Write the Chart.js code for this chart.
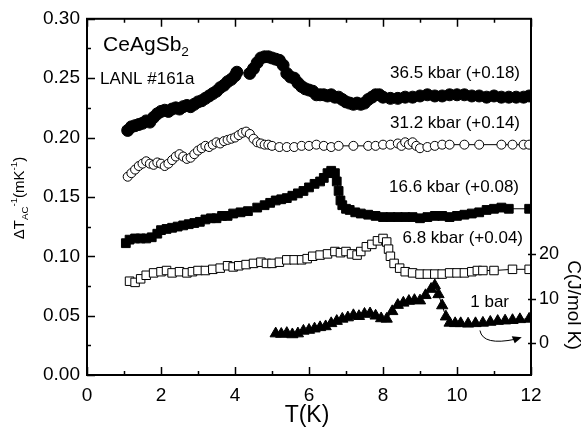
<!DOCTYPE html>
<html>
<head>
<meta charset="utf-8">
<script src="https://cdn.jsdelivr.net/npm/chart.js@4.4.1/dist/chart.umd.min.js"></script>
<style>
  html, body { margin: 0; padding: 0; background: #fff; }
  #wrap { width: 588px; height: 436px; }
</style>
</head>
<body>
<div id="wrap"><canvas id="Chart" width="588" height="436"></canvas></div>
<script>
// 36.5 kbar (+0.18), filled circles
const t365 = [1.1,1.2,1.3,1.4,1.5,1.6,1.7,1.8,1.9,2.0,2.1,2.2,2.3,2.4,2.5,2.6,2.7,2.8,2.9,3.0,3.1,3.2,3.3,3.4,3.5,3.6,3.7,3.8,3.9,4.0,4.05,4.4,4.5,4.6,4.7,4.8,4.9,5.0,5.1,5.2,5.3,5.4,5.5,5.6,5.7,5.8,5.9,6.0,6.1,6.2,6.3,6.4,6.5,6.6,6.7,6.8,6.9,7.0,7.1,7.2,7.3,7.4,7.5,7.6,7.7,7.8,7.9,8.0,8.2,8.4,8.6,8.8,9.0,9.2,9.4,9.6,9.8,10.0,10.2,10.4,10.6,10.8,11.0,11.2,11.4,11.6,11.8,11.95];
const v365 = [0.206,0.209,0.210,0.211,0.212,0.214,0.213,0.217,0.220,0.222,0.223,0.222,0.224,0.225,0.224,0.226,0.227,0.226,0.228,0.230,0.231,0.233,0.235,0.237,0.239,0.242,0.244,0.247,0.249,0.252,0.255,0.254,0.258,0.263,0.267,0.268,0.268,0.267,0.266,0.265,0.261,0.254,0.251,0.250,0.246,0.243,0.241,0.240,0.239,0.236,0.236,0.236,0.235,0.236,0.234,0.234,0.232,0.230,0.229,0.228,0.229,0.228,0.229,0.232,0.234,0.236,0.236,0.234,0.233,0.233,0.234,0.234,0.235,0.236,0.235,0.235,0.236,0.236,0.236,0.235,0.235,0.234,0.235,0.234,0.234,0.234,0.234,0.235];

// 31.2 kbar (+0.14), open circles
const t312 = [1.1,1.2,1.3,1.4,1.5,1.6,1.7,1.8,1.9,2.0,2.1,2.2,2.3,2.4,2.5,2.6,2.7,2.8,2.9,3.0,3.1,3.2,3.3,3.4,3.5,3.6,3.7,3.8,3.9,4.0,4.1,4.2,4.3,4.4,4.5,4.6,4.7,4.8,4.9,5.0,5.2,5.4,5.6,5.8,6.0,6.2,6.4,6.6,6.8,7.2,7.6,7.8,8.0,8.2,8.4,8.5,8.6,8.7,8.8,8.9,9.0,9.2,9.4,9.6,9.8,10.2,10.6,11.2,11.5,11.8,11.95];
const v312 = [0.167,0.170,0.173,0.176,0.178,0.180,0.178,0.177,0.179,0.178,0.176,0.178,0.181,0.184,0.186,0.184,0.182,0.183,0.186,0.189,0.191,0.193,0.192,0.194,0.196,0.195,0.197,0.198,0.199,0.200,0.202,0.204,0.205,0.203,0.199,0.196,0.195,0.194,0.194,0.193,0.192,0.192,0.192,0.193,0.193,0.194,0.193,0.192,0.193,0.193,0.193,0.193,0.194,0.194,0.195,0.193,0.196,0.194,0.196,0.193,0.191,0.192,0.193,0.194,0.194,0.194,0.194,0.194,0.194,0.194,0.194];

// 16.6 kbar (+0.08), filled squares
const t166 = [1.05,1.15,1.3,1.45,1.6,1.75,1.9,2.0,2.15,2.3,2.45,2.6,2.75,2.9,3.05,3.2,3.35,3.5,3.65,3.8,3.95,4.15,4.35,4.6,4.8,4.95,5.1,5.25,5.4,5.55,5.7,5.85,6.0,6.15,6.3,6.4,6.5,6.6,6.7,6.75,6.8,6.85,6.9,7.0,7.1,7.25,7.4,7.6,7.8,8.0,8.2,8.4,8.6,8.8,9.0,9.2,9.4,9.6,9.8,10.0,10.2,10.4,10.6,10.8,11.0,11.2,11.4,11.95];
const v166 = [0.111,0.114,0.115,0.115,0.115,0.116,0.119,0.122,0.123,0.124,0.125,0.126,0.127,0.128,0.129,0.131,0.132,0.132,0.134,0.134,0.136,0.137,0.138,0.141,0.143,0.145,0.147,0.148,0.149,0.151,0.153,0.155,0.158,0.161,0.163,0.166,0.170,0.172,0.170,0.163,0.155,0.147,0.143,0.140,0.139,0.137,0.136,0.135,0.134,0.133,0.133,0.133,0.133,0.133,0.132,0.133,0.134,0.134,0.133,0.134,0.135,0.136,0.137,0.139,0.140,0.141,0.140,0.140];

// 6.8 kbar (+0.04), open squares
const t68 = [1.15,1.3,1.45,1.6,1.8,2.0,2.15,2.3,2.5,2.7,2.85,3.0,3.2,3.4,3.6,3.8,3.95,4.1,4.3,4.5,4.7,4.85,5.0,5.2,5.4,5.6,5.8,5.95,6.1,6.3,6.5,6.7,6.85,7.0,7.15,7.3,7.4,7.55,7.7,7.85,8.0,8.1,8.15,8.2,8.3,8.45,8.6,8.8,9.0,9.2,9.4,9.6,9.8,10.0,10.2,10.4,10.55,10.7,11.0,11.5,11.95];
const v68 = [0.079,0.078,0.081,0.084,0.086,0.087,0.088,0.086,0.087,0.086,0.087,0.088,0.088,0.089,0.090,0.092,0.091,0.092,0.093,0.094,0.095,0.094,0.094,0.095,0.097,0.097,0.097,0.098,0.100,0.101,0.102,0.104,0.103,0.104,0.102,0.101,0.104,0.108,0.110,0.113,0.115,0.112,0.106,0.100,0.094,0.090,0.087,0.086,0.085,0.085,0.085,0.085,0.086,0.086,0.086,0.087,0.088,0.088,0.088,0.089,0.089];

// 1 bar, specific heat C (J/mol K), filled triangles, right axis
const t1 = [5.1,5.25,5.4,5.55,5.7,5.85,6.0,6.15,6.3,6.45,6.6,6.75,6.9,7.05,7.2,7.35,7.5,7.65,7.8,7.95,8.1,8.25,8.4,8.55,8.7,8.85,9.0,9.15,9.3,9.4,9.5,9.6,9.7,9.8,9.95,10.1,10.3,10.5,10.7,10.9,11.1,11.3,11.5,11.7,11.95];
const c1 = [2.2,2.1,2.3,2.0,2.2,2.8,3.0,3.3,3.6,3.8,4.5,5.0,5.5,5.8,6.3,6.1,6.6,6.7,6.2,5.6,5.5,7.2,8.6,9.1,9.5,9.7,9.6,10.8,12.2,13.0,11.0,8.5,6.0,4.6,4.5,4.5,4.4,4.5,4.6,4.8,5.0,5.1,5.2,5.4,5.5];

const yTicks = [0, 0.05, 0.1, 0.15, 0.2, 0.25, 0.3];
const cTicks = [0, 10, 20];

const FONT = '"Liberation Sans", Arial, sans-serif';

function pts(xs, ys) {
  return xs.map((x, i) => ({ x: x, y: ys[i] }));
}

function series(label, xs, ys, style, fill, radius, axis) {
  return {
    label: label,
    data: pts(xs, ys),
    yAxisID: axis || 'y',
    borderColor: '#000',
    borderWidth: 1,
    pointStyle: style,
    pointRadius: radius,
    pointBackgroundColor: fill,
    pointBorderColor: '#000',
    pointBorderWidth: 1,
    showLine: true,
    tension: 0
  };
}

// text with sub/superscripts, optionally rotated
function rich(ctx, x, y, parts, size, angle) {
  ctx.save();
  ctx.translate(x, y);
  ctx.rotate(angle);
  let w = 0;
  parts.forEach(p => {
    ctx.font = (p.s ? size * 0.65 : size) + 'px ' + FONT;
    w += ctx.measureText(p.t).width;
  });
  let cx = -w / 2;
  ctx.textBaseline = 'middle';
  ctx.textAlign = 'left';
  parts.forEach(p => {
    ctx.font = (p.s ? size * 0.65 : size) + 'px ' + FONT;
    const dy = p.s === 'sub' ? size * 0.35 : p.s === 'sup' ? -size * 0.35 : 0;
    ctx.fillText(p.t, cx, dy);
    cx += ctx.measureText(p.t).width;
  });
  ctx.restore();
}

const decor = {
  id: 'decor',
  afterDraw(chart) {
    const ctx = chart.ctx;
    const a = chart.chartArea;
    const xs = chart.scales.x, ys = chart.scales.y, cs = chart.scales.y2;
    ctx.save();
    ctx.strokeStyle = '#000';
    ctx.fillStyle = '#000';
    ctx.lineWidth = 2;
    ctx.strokeRect(a.left, a.top, a.right - a.left, a.bottom - a.top);

    // inward ticks
    ctx.lineWidth = 1.5;
    ctx.beginPath();
    for (let t = 0; t <= 12; t++) {
      const px = Math.round(xs.getPixelForValue(t)) + 0.5;
      const len = t % 2 === 0 ? 8 : 4;
      ctx.moveTo(px, a.bottom); ctx.lineTo(px, a.bottom - len);
      ctx.moveTo(px, a.top); ctx.lineTo(px, a.top + len);
    }
    for (let i = 0; i <= 12; i++) {
      const py = Math.round(ys.getPixelForValue(i * 0.025)) + 0.5;
      const len = i % 2 === 0 ? 8 : 4;
      ctx.moveTo(a.left, py); ctx.lineTo(a.left + len, py);
    }
    cTicks.forEach(v => {
      const py = Math.round(cs.getPixelForValue(v)) + 0.5;
      ctx.moveTo(a.right - 3, py); ctx.lineTo(a.right + 5, py);
    });
    ctx.stroke();

    // arrow from "1 bar" label to the right axis
    const x0 = xs.getPixelForValue(10.62), y0 = cs.getPixelForValue(2.9);
    const x1 = xs.getPixelForValue(11.75), y1 = cs.getPixelForValue(1.4);
    const qx = xs.getPixelForValue(10.7), qy = cs.getPixelForValue(-0.6);
    ctx.lineWidth = 1;
    ctx.beginPath();
    ctx.moveTo(x0, y0);
    ctx.quadraticCurveTo(qx, qy, x1 - 6, y1 + 2);
    ctx.stroke();
    ctx.beginPath();
    ctx.moveTo(x1, y1);
    ctx.lineTo(x1 - 10, y1 - 1);
    ctx.lineTo(x1 - 7, y1 + 6);
    ctx.closePath();
    ctx.fill();

    // labels
    ctx.textBaseline = 'middle';
    ctx.textAlign = 'right';
    ctx.font = '17px ' + FONT;
    ctx.fillText('36.5 kbar (+0.18)', 520, 73);
    ctx.fillText('31.2 kbar (+0.14)', 520, 123);
    ctx.fillText('16.6 kbar (+0.08)', 519, 187);
    ctx.fillText('6.8 kbar (+0.04)', 523, 238);
    ctx.fillText('1 bar', 509, 302);

    ctx.textAlign = 'left';
    rich(ctx, 146, 45, [{ t: 'CeAgSb' }, { t: '2', s: 'sub' }], 21, 0);
    ctx.font = '17px ' + FONT;
    ctx.textAlign = 'left';
    ctx.fillText('LANL #161a', 100, 79);

    // axis titles
    ctx.font = '23px ' + FONT;
    ctx.textAlign = 'center';
    ctx.fillText('T(K)', 307, 416);
    rich(ctx, 20, 198, [
      { t: '\u0394T' }, { t: 'AC', s: 'sub' }, { t: '-1', s: 'sup' },
      { t: '(mK' }, { t: '-1', s: 'sup' }, { t: ')' }
    ], 15, -Math.PI / 2);
    rich(ctx, 573, 305, [{ t: 'C(J/mol K)' }], 19, Math.PI / 2);
    ctx.restore();
  }
};

const ctx = document.getElementById('Chart').getContext('2d');

new Chart(ctx, {
  type: 'scatter',
  data: {
    datasets: [
      series('36.5 kbar', t365, v365, 'circle', '#000', 6),
      series('31.2 kbar', t312, v312, 'circle', '#fff', 4.5),
      series('16.6 kbar', t166, v166, 'rect', '#000', 6.2),
      series('6.8 kbar', t68, v68, 'rect', '#fff', 6),
      series('1 bar', t1, c1, 'triangle', '#000', 6.5, 'y2')
    ]
  },
  options: {
    responsive: false,
    animation: false,
    layout: { padding: { top: 15, left: 0, right: 0, bottom: 0 } },
    plugins: {
      legend: { display: false },
      tooltip: { enabled: false }
    },
    scales: {
      x: {
        type: 'linear',
        position: 'bottom',
        min: 0,
        max: 12,
        grid: { display: false, drawTicks: false },
        border: { display: false },
        ticks: {
          stepSize: 2,
          color: '#000',
          padding: 9,
          maxRotation: 0,
          font: { family: FONT, size: 19 }
        },
        afterFit(s) { s.height = 61; }
      },
      y: {
        position: 'left',
        min: 0,
        max: 0.3,
        grid: { display: false, drawTicks: false },
        border: { display: false },
        afterBuildTicks(s) { s.ticks = yTicks.map(v => ({ value: v })); },
        ticks: {
          color: '#000',
          padding: 7,
          font: { family: FONT, size: 19 },
          callback: v => v.toFixed(2)
        },
        afterFit(s) { s.width = 87; }
      },
      y2: {
        position: 'right',
        min: -7.1,
        max: 72.9,
        grid: { display: false, drawTicks: false },
        border: { display: false },
        afterBuildTicks(s) { s.ticks = cTicks.map(v => ({ value: v })); },
        ticks: {
          color: '#000',
          padding: 8,
          font: { family: FONT, size: 18 }
        },
        afterFit(s) { s.width = 57; }
      }
    }
  },
  plugins: [decor]
});
</script>
</body>
</html>
